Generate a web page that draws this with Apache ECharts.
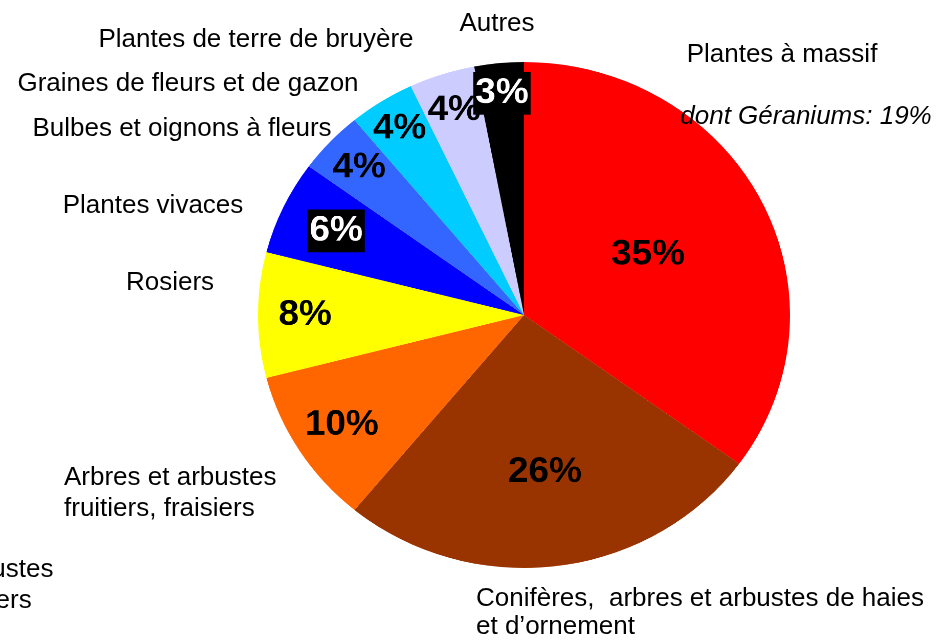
<!DOCTYPE html>
<html>
<head>
<meta charset="utf-8">
<title>Répartition des ventes de végétaux</title>
<script src="https://cdn.jsdelivr.net/npm/echarts@6/dist/echarts.min.js"></script>
<style>
    html, body { margin: 0; padding: 0; background: #fff; }
    #wrap { position: relative; width: 938px; height: 642px; overflow: hidden; }
    #pie, #names { position: absolute; left: 0; top: 0; width: 938px; height: 642px; }
    /* the original pie is a little flattened (266 x 253) */
    #pie { transform-origin: 524px 315px; transform: scale(1.023, 0.973); }
    #names { pointer-events: none; }
</style>
</head>
<body>
<div id="wrap">
    <div id="pie"></div>
    <div id="names"></div>
</div>
<script>
    var categories = [
        'Plantes à massif',
        'Conifères,  arbres et arbustes de haies\net d’ornement',
        'Arbres et arbustes\nfruitiers, fraisiers',
        'Rosiers',
        'Plantes vivaces',
        'Bulbes et oignons à fleurs',
        'Graines de fleurs et de gazon',
        'Plantes de terre de bruyère',
        'Autres'
    ];
    var values = [35, 26, 10, 8, 6, 4, 4, 4, 3];
    var colors = ['#ff0000', '#993300', '#ff6600', '#ffff00', '#0000ff', '#3366ff', '#00ccff', '#ccccff', '#000000'];
    var note = 'dont Géraniums: 19%';

    var FONT = '"Liberation Sans", Arial, sans-serif';
    var R = 260;
    var CENTER = [524, 315];

    // distance of each percent label from the centre, as a share of the radius
    var labelRing = [0.51, 0.615, 0.8, 0.81, 0.77, 0.84, 0.86, 0.84, 0.87];
    // white on black labels
    var darkLabel = [4, 8];

    // where the category names sit (hand placed, as in the original)
    var namePos = [
        {x: 782, y: 55, align: 'center'},
        {x: 476, y: 599, align: 'left', lh: 28},
        {x: 64, y: 478, align: 'left', lh: 31},
        {x: 170, y: 283, align: 'center'},
        {x: 153, y: 206, align: 'center'},
        {x: 182, y: 129, align: 'center'},
        {x: 188, y: 84, align: 'center'},
        {x: 256, y: 40, align: 'center'},
        {x: 497, y: 24, align: 'center'}
    ];

    function pctLabel(i, show) {
        var lab = {
            show: show,
            position: 'inside',
            formatter: '{c}%',
            fontFamily: FONT,
            fontWeight: 'bold',
            fontSize: 36,
            color: '#000',
            textBorderWidth: 0
        };
        if (darkLabel.indexOf(i) >= 0) {
            lab.color = '#fff';
            lab.backgroundColor = '#000';
            lab.padding = [5, 2, 3, 2];
        }
        return lab;
    }

    var series = [{
        type: 'pie',
        center: CENTER,
        radius: [0, R],
        startAngle: 90,
        clockwise: true,
        avoidLabelOverlap: false,
        silent: true,
        label: {show: false},
        labelLine: {show: false},
        itemStyle: {borderWidth: 0},
        data: values.map(function (v, i) {
            return {value: v, name: categories[i], itemStyle: {color: colors[i]}};
        })
    }];

    // one transparent ring per percent label, its middle at the wanted distance
    labelRing.forEach(function (f, k) {
        series.push({
            type: 'pie',
            center: CENTER,
            radius: [Math.round((f - 0.5) * R), Math.round((f + 0.5) * R)],
            startAngle: 90,
            clockwise: true,
            avoidLabelOverlap: false,
            labelLayout: {hideOverlap: false},
            silent: true,
            z: 3,
            emphasis: {disabled: true},
            labelLine: {show: false},
            itemStyle: {color: 'rgba(0,0,0,0)', borderWidth: 0},
            data: values.map(function (v, i) {
                return {value: v, name: categories[i], label: pctLabel(i, i === k)};
            })
        });
    });

    var graphics = categories.map(function (name, i) {
        var p = namePos[i];
        var multi = name.indexOf('\n') >= 0;
        return {
            type: 'text',
            x: p.x,
            y: multi ? p.y - p.lh / 2 : p.y,
            style: {
                text: name,
                fill: '#000',
                font: '26px ' + FONT,
                textAlign: p.align,
                textVerticalAlign: multi ? 'top' : 'middle',
                lineHeight: p.lh || 30
            }
        };
    });
    graphics.push({
        type: 'text',
        x: 806,
        y: 117,
        style: {text: note, fill: '#000', font: 'italic 26px ' + FONT, textAlign: 'center', textVerticalAlign: 'middle'}
    });
    // stray copy of the fruit tree label, half off the left edge
    graphics.push({
        type: 'text',
        x: -159,
        y: 570 - 31 / 2,
        style: {text: categories[2], fill: '#000', font: '26px ' + FONT, textAlign: 'left', textVerticalAlign: 'top', lineHeight: 31}
    });

    // drawn at 2x so the css squash stays sharp
    var pieChart = echarts.init(document.getElementById('pie'), null, {devicePixelRatio: 2});
    pieChart.setOption({
        animation: false,
        series: series
    });

    var nameChart = echarts.init(document.getElementById('names'));
    nameChart.setOption({
        animation: false,
        graphic: graphics
    });
</script>
</body>
</html>
